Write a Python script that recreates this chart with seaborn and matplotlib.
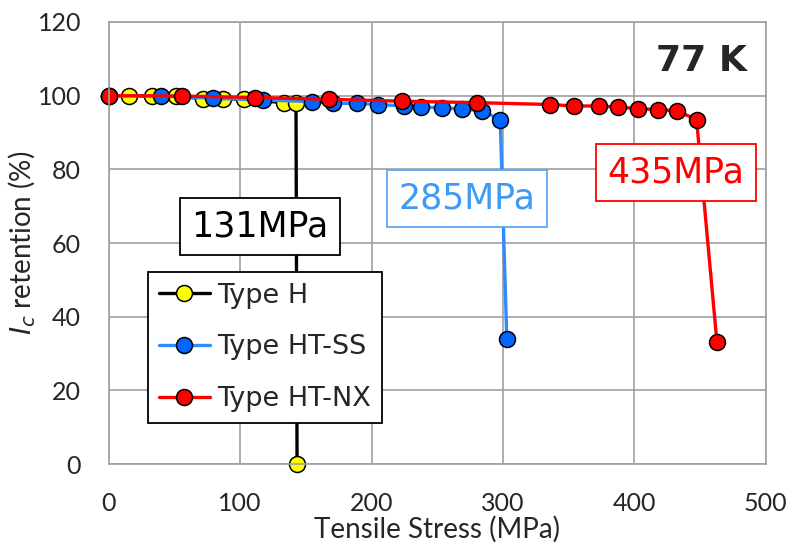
import pandas as pd
import seaborn as sns
import matplotlib.pyplot as plt

# tensile stress (MPa) vs Ic retention (%)
type_h_stress = [0, 15.5, 33, 51.5, 72, 87, 103, 133.5, 142.5, 143.3]
type_h_ret = [100, 100, 99.9, 99.8, 99.2, 99.1, 99.0, 98.1, 98.0, 0]

type_ss_stress = [0, 40, 79.5, 117.5, 154.5, 171, 189, 205, 225, 238, 253.5, 269, 284, 298, 303]
type_ss_ret = [100, 99.9, 99.3, 98.8, 98.4, 97.9, 97.9, 97.6, 97.2, 96.9, 96.7, 96.4, 95.9, 93.5, 33.9]

type_nx_stress = [0, 55.5, 111.5, 168, 223.5, 280, 336, 354.5, 373, 387.5, 403, 418, 432.5, 447.5, 463]
type_nx_ret = [100, 99.9, 99.5, 99.0, 98.5, 98.1, 97.6, 97.2, 97.2, 96.9, 96.5, 96.2, 95.9, 93.5, 33.1]

series_names = ["Type H", "Type HT-SS", "Type HT-NX"]
line_colors = ["black", "#2f8cff", "#ff0000"]
face_colors = ["#ffff00", "#0066ff", "#ff0000"]

x_ticks = [0, 100, 200, 300, 400, 500]
y_ticks = [0, 20, 40, 60, 80, 100, 120]

sns.set_style("whitegrid")
plt.rcParams["font.family"] = ["Lato", "DejaVu Sans"]
plt.rcParams["mathtext.fontset"] = "dejavusans"

fig, ax = plt.subplots(figsize=(7.9, 5.47), dpi=100)
fig.subplots_adjust(left=0.1378, right=0.969, top=0.9598, bottom=0.1517)

data = [
    (type_h_stress, type_h_ret),
    (type_ss_stress, type_ss_ret),
    (type_nx_stress, type_nx_ret),
]

for (xs, ys), name, lc, fc in zip(data, series_names, line_colors, face_colors):
    df = pd.DataFrame({"stress": xs, "retention": ys})
    sns.lineplot(
        data=df, x="stress", y="retention",
        sort=False, estimator=None,
        color=lc, linewidth=2.4,
        marker="o", markersize=11.5,
        markerfacecolor=fc, markeredgecolor="black", markeredgewidth=1.1,
        label=name, clip_on=False, ax=ax,
    )

ax.set_xlim(0, 500)
ax.set_ylim(0, 120)
ax.set_xticks(x_ticks)
ax.set_yticks(y_ticks)
ax.tick_params(axis="x", labelsize=18, pad=20, length=0)
ax.tick_params(axis="y", labelsize=18, pad=20, length=0)
ax.grid(True, color="#a0a0a0", linewidth=1.2)
for sp in ax.spines.values():
    sp.set_color("#a0a0a0")
    sp.set_linewidth(1.2)

ax.set_xlabel("Tensile Stress (MPa)", fontsize=20, labelpad=1)
ax.set_ylabel("$I_c$ retention (%)", fontsize=20, labelpad=0)

box_font = ["DejaVu Sans"]
ax.text(115, 64.6, "131MPa", fontsize=25, family=box_font, color="black",
        ha="center", va="center", zorder=5,
        bbox=dict(boxstyle="square,pad=0.33", fc="white", ec="black", lw=1.3))
ax.text(273, 72, "285MPa", fontsize=25, family=box_font, color="#3d9bf5",
        ha="center", va="center", zorder=5,
        bbox=dict(boxstyle="square,pad=0.33", fc="white", ec="#5aaaf5", lw=1.3))
ax.text(432, 79.1, "435MPa", fontsize=25, family=box_font, color="#ff0000",
        ha="center", va="center", zorder=5,
        bbox=dict(boxstyle="square,pad=0.33", fc="white", ec="#ff0000", lw=1.3))

ax.text(0.972, 0.912, "77 K", transform=ax.transAxes, fontsize=26,
        family=box_font, fontweight="bold", ha="right", va="center")

leg = ax.legend(
    loc="lower left", bbox_to_anchor=(0.0595, 0.093), borderaxespad=0,
    frameon=True, fancybox=False, framealpha=1,
    edgecolor="black", handlelength=1.9, handletextpad=0.25,
    labelspacing=0.95, borderpad=0.4,
    prop={"family": box_font, "size": 19.5},
)
leg.get_frame().set_linewidth(1.3)
leg.set_zorder(6)

fig.savefig("out.png", dpi=100)
plt.close(fig)
